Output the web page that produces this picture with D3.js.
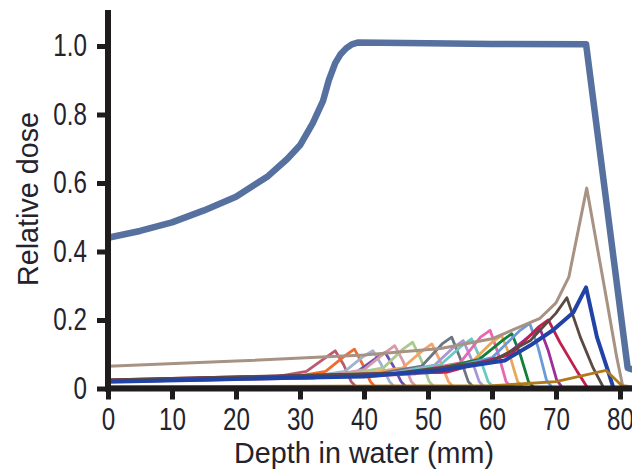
<!DOCTYPE html>
<html>
<head>
<meta charset="utf-8">
<script src="https://cdn.jsdelivr.net/npm/d3@7"></script>
<style>
	body { margin: 0; background: white; }
	text { font-family: 'Liberation Sans', Arial, sans-serif; fill: #24232d; }
</style>
</head>
<body>
<div id="chart"></div>
<script>
// depth ticks (mm) and dose ticks
const depthTicks = [0, 10, 20, 30, 40, 50, 60, 70, 80];
const doseTicks = [0, 0.2, 0.4, 0.6, 0.8, 1.0];

// spread-out Bragg peak: [depth, relative dose]
const sobp = [
	[0, 0.44], [5, 0.46], [10, 0.485], [15, 0.52], [20, 0.56], [25, 0.62],
	[28, 0.67], [30, 0.71], [32, 0.775], [33.6, 0.84], [34.5, 0.9],
	[35.5, 0.95], [36.3, 0.975], [37.2, 0.993], [38.1, 1.005], [39, 1.01],
	[50, 1.008], [60, 1.006], [74.7, 1.005], [81.2, 0.06], [82, 0.055]
];

// individual pristine peaks, shallow to deep
const peaks = [
	[[0, 0.02], [25, 0.03], [31, 0.05], [34, 0.09], [35.5, 0.11], [36.8, 0.07], [38, 0.02], [39, 0]],
	[[0, 0.02], [28, 0.03], [34, 0.05], [37, 0.095], [38.5, 0.115], [39.8, 0.07], [41, 0.02], [42, 0]],
	[[0, 0.02], [30, 0.03], [37, 0.05], [40, 0.095], [41.4, 0.11], [42.7, 0.07], [44, 0.02], [45, 0]],
	[[0, 0.02], [32, 0.03], [39, 0.05], [42, 0.09], [43.3, 0.105], [44.6, 0.065], [45.8, 0.02], [46.8, 0]],
	[[0, 0.02], [33, 0.032], [40, 0.055], [43.3, 0.105], [44.8, 0.125], [46.1, 0.08], [47.4, 0.02], [48.4, 0]],
	[[0, 0.022], [35, 0.033], [43, 0.06], [46.1, 0.115], [47.6, 0.135], [48.9, 0.085], [50.2, 0.02], [51.2, 0]],
	[[0, 0.022], [37, 0.035], [46, 0.06], [49.1, 0.11], [50.6, 0.13], [51.9, 0.08], [53.2, 0.02], [54.2, 0]],
	[[0, 0.022], [40, 0.036], [49, 0.065], [52.2, 0.13], [53.7, 0.15], [55, 0.09], [56.3, 0.02], [57.3, 0]],
	[[0, 0.022], [42, 0.037], [51, 0.068], [54, 0.12], [55.5, 0.14], [56.8, 0.085], [58, 0.02], [59, 0]],
	[[0, 0.023], [43, 0.038], [52, 0.07], [55.3, 0.125], [56.8, 0.145], [58.1, 0.09], [59.4, 0.02], [60.4, 0]],
	[[0, 0.023], [45, 0.04], [55, 0.075], [58.2, 0.15], [59.7, 0.17], [61, 0.1], [62.2, 0.02], [63.2, 0]],
	[[0, 0.023], [47, 0.042], [57, 0.08], [60, 0.135], [61.5, 0.155], [62.8, 0.095], [64, 0.02], [65, 0]],
	[[0, 0.024], [48, 0.043], [58, 0.085], [61.6, 0.14], [63.1, 0.16], [64.4, 0.1], [65.7, 0.02], [66.7, 0]],
	[[0, 0.024], [50, 0.045], [60, 0.09], [64.4, 0.17], [65.9, 0.19], [67.2, 0.12], [68.5, 0.025], [69.5, 0]],
	[[0, 0.024], [52, 0.047], [62, 0.095], [66, 0.155], [67.5, 0.175], [68.8, 0.11], [70.1, 0.025], [71.1, 0]],
	[[0, 0.025], [53, 0.048], [63, 0.1], [67.3, 0.18], [68.8, 0.2], [70.6, 0.135], [73.3, 0.05], [75, 0]],
	[[0, 0.025], [45, 0.045], [60, 0.08], [66, 0.14], [70, 0.22], [71.7, 0.265], [73.8, 0.15], [75.8, 0.06], [77.5, 0]]
];

const bluePeak = [
	[0, 0.02], [20, 0.028], [40, 0.035], [52, 0.053], [62, 0.082], [66, 0.126],
	[69.5, 0.17], [72.7, 0.222], [74.7, 0.295], [76.4, 0.15], [78.1, 0.053], [79, 0]
];
const tanPeak = [
	[0, 0.065], [20, 0.08], [40, 0.098], [52, 0.117], [60, 0.145], [67.5, 0.205],
	[70, 0.25], [72, 0.325], [74.8, 0.585], [78, 0.25], [79.5, 0.09], [80.5, 0]
];
const goldPeak = [
	[0, 0.005], [60, 0.008], [70, 0.02], [77.8, 0.053], [80.3, 0.008], [82, 0.005]
];

const peakColors = [
	'#b95a70', '#f26b2a', '#9fb4cc', '#6d50b4', '#d89aa8', '#a9c98f',
	'#f4a46a', '#6b7681', '#a898d8', '#6cc8c0', '#e868b0', '#e9a75a',
	'#12803a', '#6a9ad8', '#a02c9c', '#c0204e', '#5a4a42'
];

const width = 632;
const height = 475;

const svg = d3
	.select('#chart')
	.append('svg')
	.attr('width', width)
	.attr('height', height);

const x = d3.scaleLinear().domain([0, 82]).range([108, 632.8]);
const y = d3.scaleLinear().domain([0, 1.1]).range([388.5, 11.75]);

const line = d3
	.line()
	.x((d) => x(d[0]))
	.y((d) => y(d[1]));

const lines = svg.append('g').attr('fill', 'none').attr('stroke-linejoin', 'round');

lines
	.selectAll('.peak')
	.data(peaks)
	.enter()
	.append('path')
	.attr('class', 'peak')
	.attr('d', line)
	.attr('stroke', (d, i) => peakColors[i])
	.attr('stroke-width', 2.8);

lines.append('path').attr('d', line(tanPeak)).attr('stroke', '#a89284').attr('stroke-width', 3);
lines.append('path').attr('d', line(bluePeak)).attr('stroke', '#2143a6').attr('stroke-width', 4);
lines.append('path').attr('d', line(goldPeak)).attr('stroke', '#b07a1c').attr('stroke-width', 2.8);
lines.append('path').attr('d', line(sobp)).attr('stroke', '#56709f').attr('stroke-width', 6.5);

// squeeze text horizontally, the original uses a condensed face
const condense = (sel, k) =>
	sel.each(function () {
		const w = this.getComputedTextLength();
		d3.select(this).attr('textLength', w * k).attr('lengthAdjust', 'spacingAndGlyphs');
	});

// axes
const xAxis = svg
	.append('g')
	.attr('transform', `translate(0,${y(0)})`)
	.call(
		d3.axisBottom(x).tickValues(depthTicks).tickSize(11).tickSizeOuter(0).tickPadding(8)
	);

const yAxis = svg
	.append('g')
	.attr('transform', `translate(${x(0)},0)`)
	.call(
		d3
			.axisLeft(y)
			.tickValues(doseTicks)
			.tickFormat((d) => (d === 0 ? '0' : d.toFixed(1)))
			.tickSize(11)
			.tickSizeOuter(0)
			.tickPadding(10)
	);

[xAxis, yAxis].forEach((a) => {
	a.select('.domain').attr('stroke', '#1e1c1d').attr('stroke-width', 6);
	a.selectAll('.tick line').attr('stroke', '#1e1c1d').attr('stroke-width', 5);
	a.selectAll('.tick text')
		.style('font-size', '31px')
		.style('font-family', "'Liberation Sans', Arial, sans-serif")
		.attr('fill', '#24232d')
		.call(condense, 0.78);
});
xAxis.select('.domain').attr('d', `M${x(0) - 3},0H${width}`);
yAxis.select('.domain').attr('d', `M0,${y(0) + 3}V10`);

svg.append('text')
	.attr('x', 364)
	.attr('y', 463)
	.attr('text-anchor', 'middle')
	.style('font-size', '30px')
	.text('Depth in water (mm)')
	.attr('textLength', 260)
	.attr('lengthAdjust', 'spacingAndGlyphs');

svg.append('text')
	.attr('transform', 'translate(38,199) rotate(-90)')
	.attr('text-anchor', 'middle')
	.style('font-size', '30px')
	.text('Relative dose')
	.attr('textLength', 174)
	.attr('lengthAdjust', 'spacingAndGlyphs');
</script>
</body>
</html>
